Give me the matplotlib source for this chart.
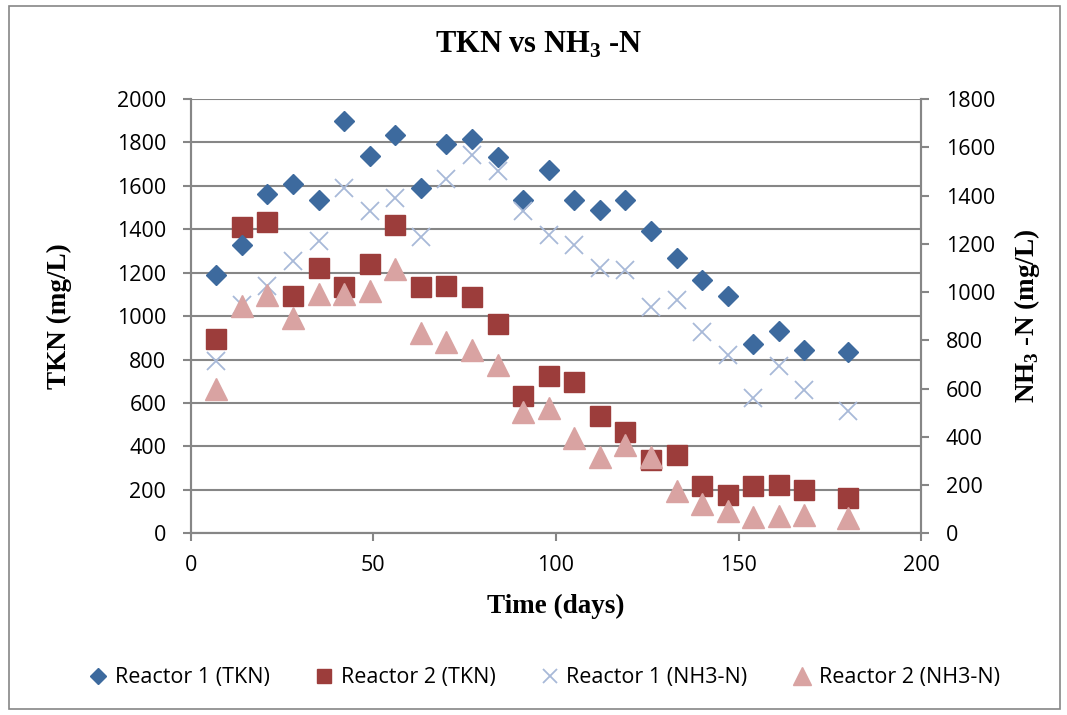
import numpy as np
import matplotlib
matplotlib.use('Agg')
import matplotlib.pyplot as plt
from matplotlib.patches import Rectangle

# sampling days
days = [7, 14, 21, 28, 35, 42, 49, 56, 63, 70, 77, 84, 91, 98, 105, 112,
        119, 126, 133, 140, 147, 154, 161, 168, 180]

# TKN (mg/L), left axis
tkn_r1 = [1190, 1326, 1564, 1610, 1533, 1899, 1737, 1835, 1588, 1794, 1814, 1731,
          1536, 1674, 1535, 1488, 1536, 1392, 1269, 1167, 1094, 870, 934, 842, 836]
tkn_r2 = [897, 1410, 1432, 1091, 1221, 1135, 1240, 1419, 1135, 1138, 1089, 965,
          631, 725, 696, 539, 465, 336, 359, 217, 175, 220, 223, 198, 161]

# NH3-N (mg/L), right axis
nh3_r1 = [716, 948, 1024, 1127, 1210, 1432, 1335, 1391, 1230, 1467, 1569, 1501,
          1335, 1237, 1197, 1099, 1092, 939, 965, 835, 738, 560, 695, 593, 509]
nh3_r2 = [600, 944, 987, 894, 991, 990, 1005, 1095, 832, 793, 760, 696,
          502, 519, 394, 317, 365, 315, 177, 120, 93, 68, 73, 77, 62]

GRID = '#868686'
TICKFONT = 'Open Sans'
SERIF = 'Liberation Serif'

plt.rcParams['mathtext.fontset'] = 'custom'
plt.rcParams['mathtext.rm'] = SERIF
plt.rcParams['mathtext.bf'] = SERIF + ':bold'

fig = plt.figure(figsize=(10.67, 7.15), dpi=100)
ax = fig.add_axes([0.1787, 0.2541, 0.6847, 0.6074])
ax2 = ax.twinx()

h1, = ax.plot(days, tkn_r1, linestyle='none', marker='D', ms=10.5,
              color='#3D6A9E', label='Reactor 1 (TKN)', zorder=4)
h2, = ax.plot(days, tkn_r2, linestyle='none', marker='s', ms=14,
              color='#9C3D3B', label='Reactor 2 (TKN)', zorder=3)
h3, = ax2.plot(days, nh3_r1, linestyle='none', marker='x', ms=13.5, mew=1.3,
               color='#A8B9D8', label='Reactor 1 (NH3-N)', zorder=3)
h4, = ax2.plot(days, nh3_r2, linestyle='none', marker='^', ms=16.5,
               color='#D9A3A2', label='Reactor 2 (NH3-N)', zorder=3)

ax.set_xlim(0, 200)
ax.set_ylim(0, 2000)
ax2.set_ylim(0, 1800)
ax.set_xticks(np.arange(0, 201, 50))
ax.set_yticks(np.arange(0, 2001, 200))
ax2.set_yticks(np.arange(0, 1801, 200))

ax.grid(axis='y', color=GRID, linewidth=1.5)
ax.set_axisbelow(True)
ax2.set_zorder(ax.get_zorder() + 1)
ax2.patch.set_visible(False)

for a in (ax, ax2):
    for s in a.spines.values():
        s.set_color(GRID)
        s.set_linewidth(1.5)
    a.spines['top'].set_visible(False)
    a.tick_params(direction='out', length=5.5, width=1.5, color=GRID,
                  labelsize=15.5)
    for lab in a.get_xticklabels() + a.get_yticklabels():
        lab.set_family(TICKFONT)
ax.tick_params(axis='x', pad=10)
ax.tick_params(axis='y', pad=12)
ax2.tick_params(axis='y', pad=12)

fig.text(0.505, 0.937, r'TKN vs NH$_\mathbf{3}$ -N', family=SERIF,
         fontweight='bold', fontsize=22, ha='center', va='center')
ax.set_xlabel('Time (days)', family=SERIF, fontweight='bold', fontsize=19.5)
ax.xaxis.set_label_coords(0.5, -0.1675)
ax.set_ylabel('TKN (mg/L)', family=SERIF, fontweight='bold', fontsize=19.5)
ax.yaxis.set_label_coords(-0.179, 0.5)
ax2.set_ylabel(r'NH$_\mathbf{3}$ -N (mg/L)', family=SERIF, fontweight='bold',
               fontsize=19.5)
ax2.yaxis.set_label_coords(1.1447, 0.5)
for lbl in (ax.xaxis.label, ax.yaxis.label, ax2.yaxis.label):
    lbl.set_va('center')

leg = fig.legend(handles=[h1, h2, h3, h4], loc='center',
                 bbox_to_anchor=(0.511, 0.052), ncol=4, frameon=False,
                 prop={'family': TICKFONT, 'size': 15.5}, markerscale=0.75,
                 handlelength=0.7, handletextpad=0.4, columnspacing=2.2)

fig.patches.append(Rectangle((0.0084, 0.009), 0.985, 0.982, transform=fig.transFigure,
                             fill=False, edgecolor=GRID, linewidth=1.2))

fig.savefig('out.png', dpi=100)
